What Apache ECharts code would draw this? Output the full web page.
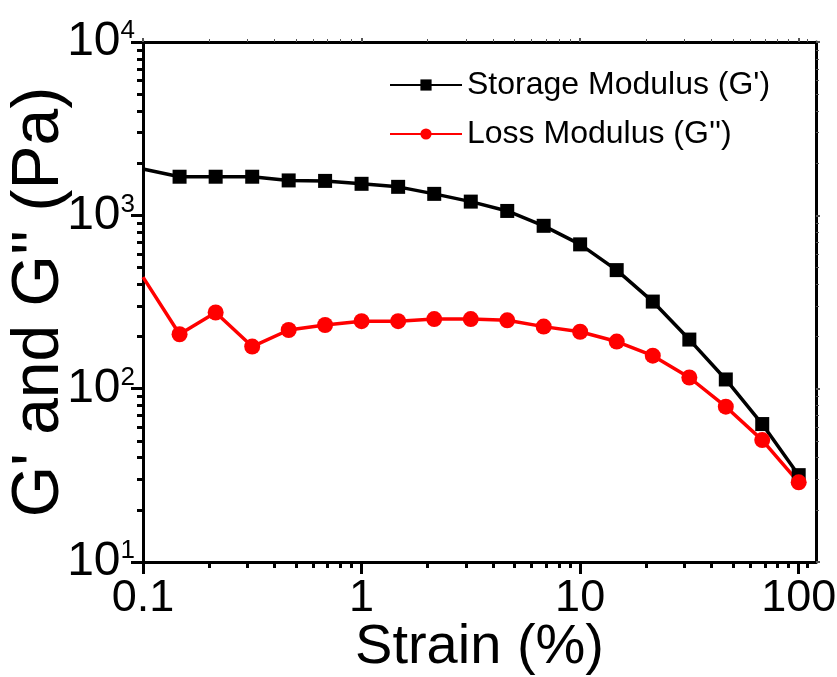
<!DOCTYPE html>
<html>
<head>
<meta charset="utf-8">
<script src="https://cdn.jsdelivr.net/npm/echarts@6/dist/echarts.min.js"></script>
<style>
  html, body { margin: 0; padding: 0; background: #fff; }
  #chart { width: 837px; height: 677px; }
</style>
</head>
<body>
<div id="chart"></div>
<script>
  // strain (%) sweep, 6 points per decade
  var strain = [0.1, 0.147, 0.215, 0.316, 0.464, 0.681, 1, 1.47, 2.15, 3.16, 4.64, 6.81, 10, 14.7, 21.5, 31.6, 46.4, 68.1, 100]
  var storageModulus = [1850, 1670, 1670, 1670, 1590, 1580, 1520, 1460, 1330, 1200, 1060, 870, 680, 483, 318, 192, 113, 62.5, 31.7]
  var lossModulus = [440, 206, 275, 175, 218, 233, 245, 245, 252, 252, 248, 228, 213, 187, 155, 116, 78.7, 50.5, 28.8]

  var xMajorTicks = [0.1, 1, 10, 100]
  var yMajorTicks = [10, 100, 1000, 10000]
  var xMinorTicks = [0.2, 0.3, 0.4, 0.5, 0.6, 0.7, 0.8, 0.9, 2, 3, 4, 5, 6, 7, 8, 9, 20, 30, 40, 50, 60, 70, 80, 90, 110]
  var yMinorTicks = [20, 30, 40, 50, 60, 70, 80, 90, 200, 300, 400, 500, 600, 700, 800, 900, 2000, 3000, 4000, 5000, 6000, 7000, 8000, 9000]

  var font = '"Liberation Sans", Arial, sans-serif'
  var xMin = 0.1
  var xMax = 120
  var yMin = 10
  var yMax = 10000

  function pairs(ys) {
    return strain.map(function (x, i) {
      var item = { value: [x, ys[i]] }
      if (i === 0) item.symbol = 'none' // first point sits on the axis, no marker
      return item
    })
  }

  // main = bottom/left axis with labels, mirror = top/right with faint ticks
  function tickStyle(main, minor) {
    if (main) return { length: minor ? 6 : 12, lineStyle: { color: '#000', width: 3 } }
    return { length: minor ? 3 : 4, lineStyle: { color: '#555', width: minor ? 1 : 2 } }
  }

  function xAxisOf(position, ticks, minor, main) {
    var t = tickStyle(main, minor)
    return {
      type: 'log', logBase: 10, min: xMin, max: xMax, position: position,
      axisLine: { show: !minor, onZero: false, lineStyle: { color: '#000', width: 3 } },
      axisTick: { show: true, inside: false, length: t.length, customValues: ticks, lineStyle: t.lineStyle },
      axisLabel: {
        show: main && !minor, customValues: ticks, color: '#000', fontFamily: font, fontSize: 45, margin: 14,
        formatter: function (v) { return String(+v.toPrecision(3)) }
      },
      splitLine: { show: false },
      name: main && !minor ? 'Strain (%)' : '',
      nameLocation: 'middle', nameGap: 58, nameMoveOverlap: false,
      nameTextStyle: { color: '#000', fontFamily: font, fontSize: 56 }
    }
  }

  function yAxisOf(position, ticks, minor, main) {
    var t = tickStyle(main, minor)
    return {
      type: 'log', logBase: 10, min: yMin, max: yMax, position: position,
      axisLine: { show: !minor, onZero: false, lineStyle: { color: '#000', width: 3 } },
      axisTick: { show: true, inside: false, length: t.length, customValues: ticks, lineStyle: t.lineStyle },
      axisLabel: {
        show: main && !minor, customValues: ticks, margin: 8,
        formatter: function (v) {
          return '{b|10}{s|' + Math.round(Math.log10(v)) + '}'
        },
        rich: {
          b: { color: '#000', fontFamily: font, fontSize: 48, lineHeight: 48, verticalAlign: 'bottom' },
          s: { color: '#000', fontFamily: font, fontSize: 26, lineHeight: 48, verticalAlign: 'top', padding: [0, 0, 20, 0] }
        }
      },
      splitLine: { show: false },
      name: main && !minor ? 'G\' and G\'\' (Pa)' : '',
      nameLocation: 'middle', nameGap: 70, nameRotate: 90, nameMoveOverlap: false,
      nameTextStyle: { color: '#000', fontFamily: font, fontSize: 66 }
    }
  }

  var chart = echarts.init(document.getElementById('chart'))
  chart.setOption({
    backgroundColor: '#fff',
    animation: false,
    grid: { left: 143, right: 21, top: 42, bottom: 115, containLabel: false, outerBoundsMode: 'none' },
    legend: {
      data: ['Storage Modulus (G\')', 'Loss Modulus (G\'\')'],
      orient: 'vertical',
      left: 384, top: 64,
      itemWidth: 72, itemHeight: 14, itemGap: 17,
      textStyle: { color: '#000', fontFamily: font, fontSize: 32 }
    },
    xAxis: [
      xAxisOf('bottom', xMajorTicks, false, true),
      xAxisOf('bottom', xMinorTicks, true, true),
      xAxisOf('top', xMajorTicks, false, false),
      xAxisOf('top', xMinorTicks, true, false)
    ],
    yAxis: [
      yAxisOf('left', yMajorTicks, false, true),
      yAxisOf('left', yMinorTicks, true, true),
      yAxisOf('right', yMajorTicks, false, false),
      yAxisOf('right', yMinorTicks, true, false)
    ],
    series: [{
      name: 'Storage Modulus (G\')',
      type: 'line',
      color: '#000',
      symbol: 'rect', symbolSize: 14,
      lineStyle: { width: 3.5, color: '#000' },
      itemStyle: { color: '#000' },
      data: pairs(storageModulus)
    }, {
      name: 'Loss Modulus (G\'\')',
      type: 'line',
      color: '#ff0000',
      symbol: 'circle', symbolSize: 16,
      lineStyle: { width: 3.5, color: '#ff0000' },
      itemStyle: { color: '#ff0000' },
      data: pairs(lossModulus)
    }]
  })
</script>
</body>
</html>
